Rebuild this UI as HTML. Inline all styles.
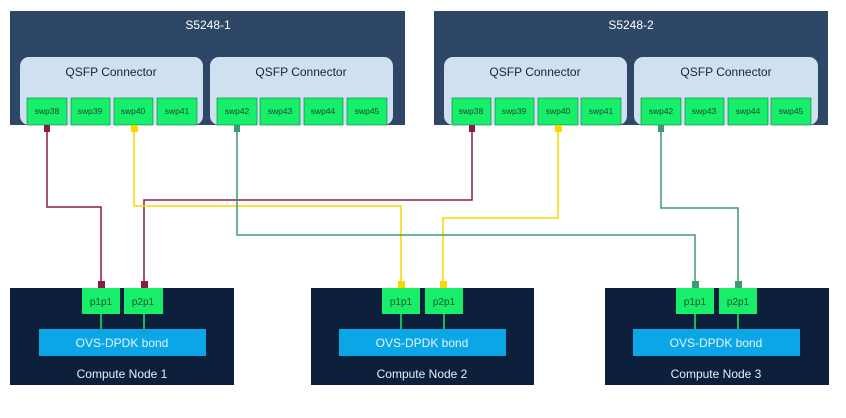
<!DOCTYPE html>
<html><head><meta charset="utf-8"><style>
body{margin:0;background:#fff;}
svg text{font-family:"Liberation Sans",sans-serif;}
</style></head><body>
<svg width="846" height="413" xmlns="http://www.w3.org/2000/svg">
<rect width="846" height="413" fill="#fff"/>
<!-- switches -->
<g>
<rect x="10" y="11" width="395" height="114" fill="#2e4767"/>
<text x="208" y="29" fill="#fff" font-size="12" text-anchor="middle">S5248-1</text>
<rect x="20" y="57" width="183" height="68" rx="9" fill="#cfe0f1"/>
<rect x="210" y="57" width="183" height="68" rx="9" fill="#cfe0f1"/>
<text x="111" y="76" font-size="12" text-anchor="middle" fill="#1a2233">QSFP Connector</text>
<text x="301" y="76" font-size="12" text-anchor="middle" fill="#1a2233">QSFP Connector</text>
<rect x="434" y="11" width="394" height="114" fill="#2e4767"/>
<text x="631" y="29" fill="#fff" font-size="12" text-anchor="middle">S5248-2</text>
<rect x="444" y="57" width="183" height="68" rx="9" fill="#cfe0f1"/>
<rect x="634" y="57" width="184" height="68" rx="9" fill="#cfe0f1"/>
<text x="535" y="76" font-size="12" text-anchor="middle" fill="#1a2233">QSFP Connector</text>
<text x="726" y="76" font-size="12" text-anchor="middle" fill="#1a2233">QSFP Connector</text>
</g>
<g fill="#17ef6a" stroke="#0b7a3a" stroke-width="0.6" font-size="8.5">
<rect x="27" y="98" width="40" height="27"/><rect x="71" y="98" width="39" height="27"/><rect x="114" y="98" width="39" height="27"/><rect x="157" y="98" width="40" height="27"/>
<rect x="217" y="98" width="40" height="27"/><rect x="260" y="98" width="40" height="27"/><rect x="304" y="98" width="39" height="27"/><rect x="347" y="98" width="40" height="27"/>
<rect x="452" y="98" width="39" height="27"/><rect x="495" y="98" width="39" height="27"/><rect x="538" y="98" width="40" height="27"/><rect x="581" y="98" width="40" height="27"/>
<rect x="641" y="98" width="40" height="27"/><rect x="685" y="98" width="39" height="27"/><rect x="728" y="98" width="40" height="27"/><rect x="771" y="98" width="40" height="27"/>
</g>
<g font-size="8.5" fill="#1a4a2a" text-anchor="middle">
<text x="47" y="114">swp38</text><text x="90" y="114">swp39</text><text x="133" y="114">swp40</text><text x="177" y="114">swp41</text>
<text x="237" y="114">swp42</text><text x="280" y="114">swp43</text><text x="323" y="114">swp44</text><text x="367" y="114">swp45</text>
<text x="471" y="114">swp38</text><text x="514" y="114">swp39</text><text x="558" y="114">swp40</text><text x="601" y="114">swp41</text>
<text x="661" y="114">swp42</text><text x="704" y="114">swp43</text><text x="748" y="114">swp44</text><text x="791" y="114">swp45</text>
</g>
<!-- nodes -->
<g>
<rect x="10" y="288" width="224" height="97" fill="#0c1f3b"/>
<rect x="311" y="288" width="223" height="97" fill="#0c1f3b"/>
<rect x="605" y="288" width="224" height="97" fill="#0c1f3b"/>
<g stroke="#17ef6a" stroke-width="1.5">
<line x1="101" y1="314" x2="101" y2="329"/><line x1="144" y1="314" x2="144" y2="329"/>
<line x1="401" y1="314" x2="401" y2="329"/><line x1="444" y1="314" x2="444" y2="329"/>
<line x1="695" y1="314" x2="695" y2="329"/><line x1="738" y1="314" x2="738" y2="329"/>
</g>
<g fill="#17ef6a">
<rect x="82" y="288" width="38" height="26"/><rect x="124" y="288" width="39" height="26"/>
<rect x="382" y="288" width="38" height="26"/><rect x="425" y="288" width="38" height="26"/>
<rect x="676" y="288" width="38" height="26"/><rect x="719" y="288" width="38" height="26"/>
</g>
<g font-size="10" fill="#14502c" text-anchor="middle">
<text x="101" y="305">p1p1</text><text x="143" y="305">p2p1</text>
<text x="401" y="305">p1p1</text><text x="444" y="305">p2p1</text>
<text x="695" y="305">p1p1</text><text x="738" y="305">p2p1</text>
</g>
<g fill="#0aa6e6">
<rect x="39" y="329" width="167" height="27"/><rect x="339" y="329" width="167" height="27"/><rect x="633" y="329" width="167" height="27"/>
</g>
<g font-size="12" fill="#e8f4ff" text-anchor="middle">
<text x="122" y="347">OVS-DPDK bond</text><text x="422" y="347">OVS-DPDK bond</text><text x="716" y="347">OVS-DPDK bond</text>
</g>
<g font-size="12" fill="#e8eef6" text-anchor="middle">
<text x="122" y="378">Compute Node 1</text><text x="422" y="378">Compute Node 2</text><text x="716" y="378">Compute Node 3</text>
</g>
</g>
<!-- links -->
<g fill="none" stroke-width="1.5">
<polyline points="47,129 47,207 101,207 101,282" stroke="#8b1a4b"/>
<polyline points="472,129 472,200 144,200 144,282" stroke="#8b1a4b"/>
<polyline points="134,129 134,206 401,206 401,282" stroke="#f7d900"/>
<polyline points="558,129 558,218 443,218 443,282" stroke="#f7d900"/>
<polyline points="237,129 237,235 695,235 695,282" stroke="#3f9a72"/>
<polyline points="661,129 661,208 738,208 738,282" stroke="#3f9a72"/>
</g>
<g>
<rect x="44" y="125" width="6" height="7" fill="#8b1a4b"/><rect x="469" y="125" width="6" height="7" fill="#8b1a4b"/>
<rect x="131" y="125" width="7" height="7" fill="#f7d900"/><rect x="555" y="125" width="7" height="7" fill="#f7d900"/>
<rect x="234" y="125" width="6" height="7" fill="#3f9a72"/><rect x="658" y="125" width="6" height="7" fill="#3f9a72"/>
<rect x="98" y="281" width="7" height="7" fill="#8b1a4b"/><rect x="141" y="281" width="7" height="7" fill="#8b1a4b"/>
<rect x="398" y="281" width="7" height="7" fill="#f7d900"/><rect x="440" y="281" width="7" height="7" fill="#f7d900"/>
<rect x="692" y="281" width="7" height="7" fill="#3f9a72"/><rect x="735" y="281" width="7" height="7" fill="#3f9a72"/>
</g>
</svg>
</body></html>
